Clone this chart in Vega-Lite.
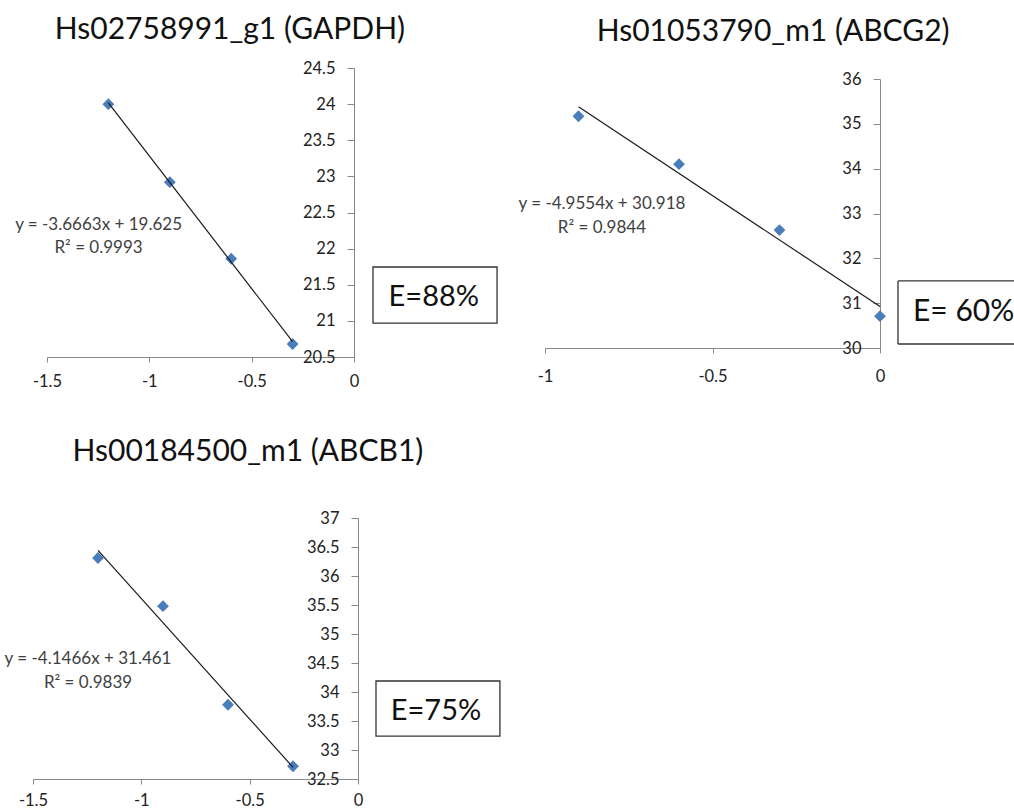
{
  "$schema": "https://vega.github.io/schema/vega-lite/v6.json",
  "padding": {"left": 4, "top": 15, "right": 0, "bottom": 0},
  "columns": 2,
  "spacing": {"row": 161, "column": 187},
  "bounds": "flush",
  "config": {
    "view": {"stroke": null},
    "font": "Lato",
    "axis": {"grid": false, "domainColor": "#888888", "tickColor": "#888888", "labelColor": "#222222", "labelFont": "Lato", "labelFontSize": 16.5, "labelFlush": false, "labelOverlap": false, "labelBound": false, "tickCount": 30}
  },
  "concat": [
    {
      "width": 321, "height": 289,
      "data": {"values": [{"x": -1.2, "y": 24.0}, {"x": -0.9, "y": 22.92}, {"x": -0.6, "y": 21.86}, {"x": -0.3, "y": 20.68}]},
      "layer": [
        {
          "mark": {"type": "point", "shape": "diamond", "filled": true, "size": 140, "color": "#4A7EBB", "opacity": 1},
          "encoding": {
            "x": {"field": "x", "type": "quantitative", "scale": {"domain": [-1.5, 0], "range": [14, 321], "nice": false, "zero": false},
                  "axis": {"title": null, "orient": "bottom", "values": [-1.5, -1, -0.5, 0], "tickCount": 30, "tickSize": 5, "labelPadding": 11, "labelExpr": "datum.value + ''"}},
            "y": {"field": "y", "type": "quantitative", "scale": {"domain": [20.5, 24.5], "nice": false, "zero": false},
                  "axis": {"title": null, "orient": "right", "values": [20.5, 21, 21.5, 22, 22.5, 23, 23.5, 24, 24.5], "tickCount": 30, "tickSize": -7, "labelPadding": -12, "labelAlign": "right", "labelBaseline": "middle", "labelExpr": "datum.value + ''"}}
          }
        },
        {
          "transform": [{"regression": "y", "on": "x"}],
          "mark": {"type": "line", "color": "#1a1a1a", "strokeWidth": 1.2},
          "encoding": {"x": {"field": "x", "type": "quantitative"}, "y": {"field": "y", "type": "quantitative"}}
        },
        {
          "data": {"values": [{}]},
          "mark": {"type": "text", "text": "Hs02758991_g1 (GAPDH)", "fontSize": 30, "color": "#111111", "align": "center", "baseline": "alphabetic"},
          "encoding": {"x": {"datum": -0.606, "type": "quantitative"}, "y": {"datum": 24.9, "type": "quantitative"}}
        },
        {
          "data": {"values": [{}]},
          "mark": {"type": "text", "text": ["y = -3.6663x + 19.625", "R² = 0.9993"], "lineHeight": 23.5, "fontSize": 17, "color": "#404040", "align": "center", "baseline": "alphabetic"},
          "encoding": {"x": {"datum": -1.248, "type": "quantitative"}, "y": {"datum": 22.258, "type": "quantitative"}}
        },
        {
          "data": {"values": [{}]},
          "mark": {"type": "rect", "fill": "white", "fillOpacity": 0, "stroke": "#333333", "strokeWidth": 1.3},
          "encoding": {"x": {"datum": 0.0928, "type": "quantitative"}, "x2": {"datum": 0.699}, "y": {"datum": 21.746, "type": "quantitative"}, "y2": {"datum": 20.97}}
        },
        {
          "data": {"values": [{}]},
          "mark": {"type": "text", "text": "E=88%", "fontSize": 29, "color": "#111111", "align": "center", "baseline": "alphabetic"},
          "encoding": {"x": {"datum": 0.39, "type": "quantitative"}, "y": {"datum": 21.206, "type": "quantitative"}}
        }
      ]
    },
    {
      "width": 335, "height": 280,
      "data": {"values": [{"x": -0.9, "y": 35.17}, {"x": -0.6, "y": 34.1}, {"x": -0.3, "y": 32.63}, {"x": 0, "y": 30.71}]},
      "layer": [
        {
          "mark": {"type": "point", "shape": "diamond", "filled": true, "size": 140, "color": "#4A7EBB", "opacity": 1},
          "encoding": {
            "x": {"field": "x", "type": "quantitative", "scale": {"domain": [-1, 0], "nice": false, "zero": false},
                  "axis": {"title": null, "orient": "bottom", "values": [-1, -0.5, 0], "tickCount": 30, "tickSize": 5, "labelPadding": 15, "labelExpr": "datum.value + ''"}},
            "y": {"field": "y", "type": "quantitative", "scale": {"domain": [30, 36], "range": [280, 11], "nice": false, "zero": false},
                  "axis": {"title": null, "orient": "right", "values": [30, 31, 32, 33, 34, 35, 36], "tickCount": 30, "tickSize": -7, "labelPadding": -12, "labelAlign": "right", "labelBaseline": "middle", "labelExpr": "datum.value + ''"}}
          }
        },
        {
          "transform": [{"regression": "y", "on": "x"}],
          "mark": {"type": "line", "color": "#1a1a1a", "strokeWidth": 1.2},
          "encoding": {"x": {"field": "x", "type": "quantitative"}, "y": {"field": "y", "type": "quantitative"}}
        },
        {
          "data": {"values": [{}]},
          "mark": {"type": "text", "text": "Hs01053790_m1 (ABCG2)", "fontSize": 30, "color": "#111111", "align": "center", "baseline": "alphabetic"},
          "encoding": {"x": {"datum": -0.319, "type": "quantitative"}, "y": {"datum": 36.85, "type": "quantitative"}}
        },
        {
          "data": {"values": [{}]},
          "mark": {"type": "text", "text": ["y = -4.9554x + 30.918", "R² = 0.9844"], "lineHeight": 23.5, "fontSize": 17, "color": "#404040", "align": "center", "baseline": "alphabetic"},
          "encoding": {"x": {"datum": -0.83, "type": "quantitative"}, "y": {"datum": 33.1, "type": "quantitative"}}
        },
        {
          "data": {"values": [{}]},
          "mark": {"type": "rule", "color": "#333333", "strokeWidth": 1.3},
          "encoding": {"x": {"datum": 0.0537, "type": "quantitative"}, "x2": {"datum": 0.4}, "y": {"datum": 31.495, "type": "quantitative"}}
        },
        {
          "data": {"values": [{}]},
          "mark": {"type": "rule", "color": "#333333", "strokeWidth": 1.3},
          "encoding": {"x": {"datum": 0.0537, "type": "quantitative"}, "x2": {"datum": 0.4}, "y": {"datum": 30.089, "type": "quantitative"}}
        },
        {
          "data": {"values": [{}]},
          "mark": {"type": "rule", "color": "#333333", "strokeWidth": 1.3},
          "encoding": {"x": {"datum": 0.0537, "type": "quantitative"}, "y": {"datum": 30.089, "type": "quantitative"}, "y2": {"datum": 31.495}}
        },
        {
          "data": {"values": [{}]},
          "mark": {"type": "text", "text": "E= 60%", "fontSize": 30, "color": "#111111", "align": "left", "baseline": "alphabetic"},
          "encoding": {"x": {"datum": 0.0985, "type": "quantitative"}, "y": {"datum": 30.6, "type": "quantitative"}}
        }
      ]
    },
    {
      "width": 325, "height": 261,
      "data": {"values": [{"x": -1.2, "y": 36.31}, {"x": -0.9, "y": 35.48}, {"x": -0.6, "y": 33.78}, {"x": -0.3, "y": 32.72}]},
      "layer": [
        {
          "mark": {"type": "point", "shape": "diamond", "filled": true, "size": 140, "color": "#4A7EBB", "opacity": 1},
          "encoding": {
            "x": {"field": "x", "type": "quantitative", "scale": {"domain": [-1.5, 0], "nice": false, "zero": false},
                  "axis": {"title": null, "orient": "bottom", "values": [-1.5, -1, -0.5, 0], "tickCount": 30, "tickSize": 5, "labelPadding": 8, "labelExpr": "datum.value + ''"}},
            "y": {"field": "y", "type": "quantitative", "scale": {"domain": [32.5, 37], "nice": false, "zero": false},
                  "axis": {"title": null, "orient": "right", "values": [32.5, 33, 33.5, 34, 34.5, 35, 35.5, 36, 36.5, 37], "tickCount": 30, "tickSize": -7, "labelPadding": -12, "labelAlign": "right", "labelBaseline": "middle", "labelExpr": "datum.value + ''"}}
          }
        },
        {
          "transform": [{"regression": "y", "on": "x"}],
          "mark": {"type": "line", "color": "#1a1a1a", "strokeWidth": 1.2},
          "encoding": {"x": {"field": "x", "type": "quantitative"}, "y": {"field": "y", "type": "quantitative"}}
        },
        {
          "data": {"values": [{}]},
          "mark": {"type": "text", "text": "Hs00184500_m1 (ABCB1)", "fontSize": 30, "color": "#111111", "align": "center", "baseline": "alphabetic"},
          "encoding": {"x": {"datum": -0.508, "type": "quantitative"}, "y": {"datum": 37.98, "type": "quantitative"}}
        },
        {
          "data": {"values": [{}]},
          "mark": {"type": "text", "text": ["y = -4.1466x + 31.461", "R² = 0.9839"], "lineHeight": 23.5, "fontSize": 17, "color": "#404040", "align": "center", "baseline": "alphabetic"},
          "encoding": {"x": {"datum": -1.246, "type": "quantitative"}, "y": {"datum": 34.48, "type": "quantitative"}}
        },
        {
          "data": {"values": [{}]},
          "mark": {"type": "rect", "fill": "white", "fillOpacity": 0, "stroke": "#333333", "strokeWidth": 1.3},
          "encoding": {"x": {"datum": 0.083, "type": "quantitative"}, "x2": {"datum": 0.655}, "y": {"datum": 34.19, "type": "quantitative"}, "y2": {"datum": 33.24}}
        },
        {
          "data": {"values": [{}]},
          "mark": {"type": "text", "text": "E=75%", "fontSize": 29, "color": "#111111", "align": "center", "baseline": "alphabetic"},
          "encoding": {"x": {"datum": 0.36, "type": "quantitative"}, "y": {"datum": 33.52, "type": "quantitative"}}
        }
      ]
    }
  ]
}
